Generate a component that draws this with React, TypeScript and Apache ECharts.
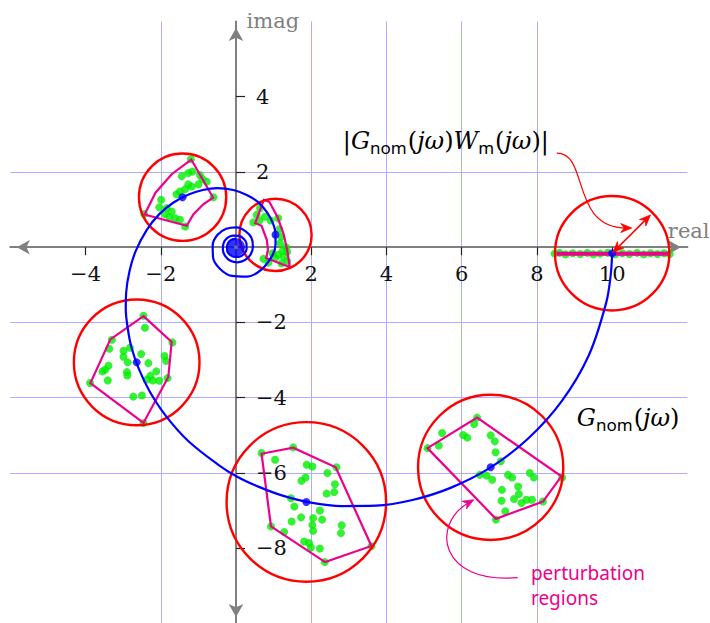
import React, { useEffect, useRef } from 'react';
import * as echarts from 'echarts';

type Pt = [number, number];

// axis ranges and ticks
const xRange: Pt = [-6, 12];
const yRange: Pt = [-10, 6];
const xTicks = [-4, -2, 2, 4, 6, 8, 10];
const yTicks = [-8, -6, -4, -2, 2, 4];

// nominal frequency response G_nom(jω) in the complex plane (real, imag)
const nominalCurve: Pt[] = [
  [10.0, -0.15], [9.96, -0.75], [9.84, -1.48], [9.38, -2.87], [8.66, -4.09], [7.76, -5.09],
  [6.76, -5.86], [5.72, -6.39], [4.69, -6.72], [3.72, -6.87], [2.81, -6.88], [1.99, -6.79],
  [1.26, -6.61], [0.61, -6.37], [0.03, -6.10], [-0.46, -5.79], [-1.27, -5.15], [-1.86, -4.49],
  [-2.29, -3.84], [-2.58, -3.24], [-2.78, -2.66], [-2.88, -2.14], [-2.93, -1.65], [-2.92, -1.21],
  [-2.83, -0.63], [-2.67, -0.11], [-2.38, 0.45], [-2.04, 0.88], [-1.66, 1.19], [-1.26, 1.40],
  [-0.88, 1.52], [-0.50, 1.57], [-0.07, 1.52], [0.30, 1.38], [0.61, 1.18], [0.83, 0.92],
  [0.98, 0.64], [1.05, 0.35], [1.05, 0.07], [0.98, -0.19], [0.69, -0.58], [0.30, -0.78],
  [-0.11, -0.76], [-0.43, -0.57], [-0.61, -0.27], [-0.62, 0.05], [-0.49, 0.33], [-0.26, 0.49],
  [0.01, 0.53], [0.25, 0.43], [0.41, 0.25], [0.45, 0.02], [0.39, -0.19], [0.24, -0.34],
  [0.04, -0.40], [-0.15, -0.36], [-0.29, -0.23], [-0.35, -0.06], [-0.33, 0.11], [-0.23, 0.25],
  [-0.08, 0.31], [0.08, 0.30], [0.21, 0.22], [0.28, 0.09], [0.28, -0.06], [0.21, -0.18],
  [0.10, -0.25], [-0.03, -0.26], [-0.15, -0.21], [-0.23, -0.11], [-0.24, 0.01], [-0.20, 0.13],
  [-0.12, 0.20], [0.00, 0.23],
];

// where the spiral winds up as ω → ∞
const spiralLimit: Pt[] = [[0, 0]];

// sampled frequencies on the nominal curve
const nominalPoints: Pt[] = [
  [10.0, -0.16], [6.77, -5.85], [1.87, -6.77], [-2.64, -3.06], [-1.42, 1.33], [1.05, 0.33],
];
// |G_nom(jω) W_m(jω)| at each sampled frequency
const uncertaintyRadii = [1.52, 1.93, 2.12, 1.67, 1.16, 0.96];

// perturbation regions (value sets of the perturbed plant)
const regionA: Pt[] = [[8.52, -0.17], [11.51, -0.17]];
const regionB: Pt[] = [[5.09, -5.34], [6.41, -4.53], [8.65, -6.09], [8.16, -6.76], [6.91, -7.22]];
const regionC: Pt[] = [[0.68, -5.49], [1.52, -5.33], [2.65, -5.85], [3.60, -7.94], [2.37, -8.37], [0.93, -7.42]];
const regionD: Pt[] = [[-2.46, -1.83], [-1.71, -2.52], [-1.80, -3.45], [-2.46, -4.67], [-3.87, -3.61], [-3.34, -2.45]];
const regionE: Pt[] = [
  [-1.19, 2.33], [-0.61, 1.32], [-0.87, 1.14], [-1.13, 0.88], [-1.31, 0.57], [-2.43, 0.87],
  [-2.14, 1.45], [-1.71, 1.94],
];
const regionF: Pt[] = [
  [0.74, 1.26], [0.51, 0.64], [0.68, 0.57], [0.82, 0.19], [0.85, -0.07], [0.80, -0.29],
  [1.43, -0.53], [1.36, -0.07], [1.26, 0.37], [1.10, 0.81], [0.89, 1.20],
];

// sampled perturbed plants
const samplesA: Pt[] = [
  [8.47, -0.17], [8.6, -0.15], [8.76, -0.19], [8.95, -0.16], [9.15, -0.18], [9.34, -0.15],
  [9.5, -0.19], [9.68, -0.17], [9.88, -0.15], [10.08, -0.19], [10.27, -0.16], [10.46, -0.18],
  [10.66, -0.15], [10.84, -0.19], [11.02, -0.16], [11.2, -0.18], [11.38, -0.16], [11.53, -0.18],
];
const samplesB: Pt[] = [
  [5.09, -5.34], [5.48, -4.94], [5.39, -5.27], [6.41, -4.53], [6.33, -4.70], [6.04, -4.99],
  [6.15, -5.06], [6.77, -5.00], [6.88, -5.16], [6.90, -5.45], [7.04, -5.69], [6.48, -6.05],
  [6.66, -6.07], [6.81, -6.18], [7.23, -6.05], [7.34, -6.12], [7.81, -6.00], [7.92, -6.12],
  [7.50, -6.36], [7.07, -6.45], [7.06, -6.74], [7.16, -7.02], [7.39, -6.69], [7.52, -6.56],
  [7.59, -6.80], [7.72, -6.71], [7.87, -6.71], [8.16, -6.76], [8.67, -6.12], [6.91, -7.24],
];
const samplesC: Pt[] = [
  [0.68, -5.47], [1.52, -5.32], [1.04, -5.65], [1.88, -5.78], [2.03, -5.83], [2.67, -5.85],
  [2.43, -6.00], [1.85, -6.12], [1.74, -6.21], [2.63, -6.30], [2.61, -6.51], [2.41, -6.55],
  [1.46, -6.67], [1.55, -6.89], [2.23, -7.00], [2.05, -7.20], [2.29, -7.24], [1.73, -7.18],
  [1.48, -7.29], [2.03, -7.38], [2.05, -7.54], [2.81, -7.39], [2.79, -7.60], [1.28, -7.57],
  [0.93, -7.42], [1.81, -7.82], [1.94, -7.86], [1.99, -7.98], [2.23, -8.01], [2.36, -8.37],
  [3.60, -7.95],
];
const samplesD: Pt[] = [
  [-2.46, -1.82], [-2.42, -2.14], [-3.30, -2.46], [-3.37, -2.70], [-2.99, -2.75], [-2.82, -2.67],
  [-2.52, -2.84], [-2.99, -2.91], [-2.88, -3.06], [-2.33, -3.08], [-1.90, -2.89], [-1.86, -3.02],
  [-1.69, -2.53], [-3.39, -3.15], [-3.48, -3.26], [-3.55, -3.30], [-2.90, -3.32], [-2.89, -3.41],
  [-2.28, -3.42], [-2.12, -3.30], [-2.21, -3.54], [-2.04, -3.55], [-1.82, -3.48], [-3.41, -3.54],
  [-3.88, -3.61], [-2.73, -3.97], [-2.50, -3.94], [-2.46, -4.67], [-2.37, -3.52],
];
const samplesE: Pt[] = [
  [-1.20, 2.34], [-1.16, 2.01], [-1.27, 1.97], [-1.44, 1.89], [-0.96, 1.92], [-0.89, 1.81],
  [-0.78, 1.74], [-1.00, 1.67], [-1.18, 1.61], [-1.35, 1.54], [-1.49, 1.48], [-1.58, 1.41],
  [-0.60, 1.33], [-1.99, 1.26], [-2.04, 1.06], [-1.84, 1.04], [-1.71, 0.95], [-1.89, 0.88],
  [-1.77, 0.80], [-1.49, 0.73], [-1.35, 0.55], [-2.44, 0.88], [-1.62, 0.77], [-1.27, 1.67],
];
const samplesF: Pt[] = [
  [0.64, 1.04], [0.55, 0.86], [0.46, 0.66], [0.62, 0.71], [0.77, 0.81], [0.92, 0.71],
  [1.12, 0.77], [1.15, 0.48], [1.21, 0.28], [1.17, 0.11], [1.33, 0.00], [1.24, -0.10],
  [1.36, -0.12], [1.12, -0.20], [1.27, -0.25], [1.36, -0.38], [0.73, -0.31], [0.86, -0.41],
  [1.04, -0.29], [1.21, -0.43], [0.97, -0.16],
];

const closedRegions = [regionB, regionC, regionD, regionE, regionF];
const allSamples = [...samplesA, ...samplesB, ...samplesC, ...samplesD, ...samplesE, ...samplesF];

const BLUE = '#0000ff';
const RED = '#ff0000';
const MAGENTA = '#ec008c';
const GREEN = '#00ee00';
const GRAY = '#808080';
const SERIF = 'DejaVu Serif';
const SANS = 'Noto Sans';

// plot box (px)
const W = 710;
const H = 623;
const GRID = { left: 10.3, right: 22.6, top: 21.5, bottom: -0.45 };
const gridW = W - GRID.left - GRID.right;
const gridH = H - GRID.top - GRID.bottom;
// distance of the zero lines from the bottom / right edge of the plot box
const xAxisShift = (gridH * (0 - yRange[0])) / (yRange[1] - yRange[0]);
const yAxisShift = (gridW * (xRange[1] - 0)) / (xRange[1] - xRange[0]);

function mathRich(color: string, size: number) {
  return {
    it: { fontFamily: SERIF, fontStyle: 'italic', fontSize: size, color, lineHeight: size + 6 },
    rm: { fontFamily: SERIF, fontSize: size, color, lineHeight: size + 6 },
    sub: {
      fontFamily: SANS, fontSize: Math.round(size * 0.7), color,
      lineHeight: Math.round(size * 0.7), verticalAlign: 'bottom', padding: [0, 1, 0, 0],
    },
  };
}

function stealthHead(tip: number[], from: number[], color: string, len = 11, half = 4.5, notch = 3.5) {
  const dx = tip[0] - from[0];
  const dy = tip[1] - from[1];
  const l = Math.hypot(dx, dy) || 1;
  const ux = dx / l, uy = dy / l;
  const nx = -uy, ny = ux;
  const bx = tip[0] - ux * len, by = tip[1] - uy * len;
  return {
    type: 'polygon',
    shape: {
      points: [
        tip,
        [bx + nx * half, by + ny * half],
        [tip[0] - ux * (len - notch), tip[1] - uy * (len - notch)],
        [bx - nx * half, by - ny * half],
      ],
    },
    style: { fill: color, stroke: color, lineWidth: 0.8 },
    z: 20,
  };
}

const minusSign = (v: number) => String(v).replace('-', '\u2212');

export default function App() {
  const ref = useRef<HTMLDivElement>(null);

  useEffect(() => {
    const chart = echarts.init(ref.current!, null, { renderer: 'svg' });

    const axisLine = {
      onZero: false, symbol: ['arrow', 'arrow'], symbolSize: [11, 13], symbolOffset: [6.5, -6.5],
      lineStyle: { color: GRAY, width: 2 },
    };
    const splitLine = { show: true, showMinLine: false, showMaxLine: false, lineStyle: { color: '#adadff', width: 1 } };

    const option: any = {
      animation: false,
      grid: { ...GRID, containLabel: false, outerBoundsMode: 'none' },
      xAxis: {
        type: 'value', min: xRange[0], max: xRange[1], interval: 2, position: 'bottom', offset: -xAxisShift,
        axisLine,
        axisTick: { show: true, length: 8, customValues: xTicks, lineStyle: { color: '#222', width: 1.2 } },
        axisLabel: {
          customValues: xTicks, margin: 16, color: '#111', fontFamily: SERIF, fontSize: 21, formatter: minusSign,
        },
        splitLine,
      },
      yAxis: {
        type: 'value', min: yRange[0], max: yRange[1], interval: 2, position: 'right', offset: -yAxisShift,
        axisLine,
        axisTick: { show: true, length: 9, customValues: yTicks, lineStyle: { color: '#222', width: 1.2 } },
        axisLabel: {
          customValues: yTicks, margin: 20, color: '#111', fontFamily: SERIF, fontSize: 21, formatter: minusSign,
        },
        splitLine,
      },
      series: [
        {
          name: 'samples', type: 'scatter', data: allSamples, symbolSize: 8,
          itemStyle: { color: GREEN }, silent: true, z: 2,
        },
        {
          name: 'region A', type: 'line', data: regionA, showSymbol: false, silent: true,
          lineStyle: { color: MAGENTA, width: 4 }, z: 3,
        },
        {
          name: 'regions', type: 'custom', coordinateSystem: 'cartesian2d', silent: true, z: 3,
          data: closedRegions.map((r) => r[0]),
          renderItem: (params: any, api: any) => {
            const pts = closedRegions[params.dataIndex].map((p) => api.coord(p));
            return { type: 'polygon', shape: { points: pts }, style: { fill: 'none', stroke: MAGENTA, lineWidth: 2.2 } };
          },
        },
        {
          name: 'uncertainty discs', type: 'custom', coordinateSystem: 'cartesian2d', silent: true, z: 4,
          data: nominalPoints.map((p, i) => [p[0], p[1], uncertaintyRadii[i]]),
          encode: { x: 0, y: 1 },
          renderItem: (params: any, api: any) => {
            const c = api.coord([api.value(0), api.value(1)]);
            const s = api.size([api.value(2), api.value(2)]);
            return {
              type: 'ellipse', shape: { cx: c[0], cy: c[1], rx: s[0], ry: s[1] },
              style: { fill: 'none', stroke: RED, lineWidth: 2.4 },
            };
          },
        },
        {
          name: 'G_nom', type: 'line', data: nominalCurve, showSymbol: false, smooth: 0.35, silent: true,
          lineStyle: { color: BLUE, width: 2.2 }, z: 5,
        },
        {
          name: 'limit', type: 'scatter', data: spiralLimit, symbolSize: 18, silent: true,
          itemStyle: { color: BLUE }, z: 6,
        },
        {
          name: 'nominal points', type: 'scatter', data: nominalPoints, symbolSize: 8, silent: true,
          itemStyle: { color: BLUE }, z: 6,
        },
        {
          name: 'origin', type: 'scatter', data: spiralLimit, symbolSize: 4, silent: true,
          itemStyle: { color: GRAY }, z: 7,
        },
      ],
    };
    chart.setOption(option);

    const toPx = (p: number[]) => chart.convertToPixel({ gridIndex: 0 }, p) as number[];

    // radius arrow of the first uncertainty disc, at 45°
    const c0 = nominalPoints[0];
    const r0 = uncertaintyRadii[0];
    const rimPt = toPx([c0[0] + r0 * Math.SQRT1_2, c0[1] + r0 * Math.SQRT1_2]);
    const cenPt = toPx(c0);
    const ddx = rimPt[0] - cenPt[0], ddy = rimPt[1] - cenPt[1];
    const dl = Math.hypot(ddx, ddy);
    const ux = ddx / dl, uy = ddy / dl;
    const tipEnd = [cenPt[0] + ux * (dl - 3), cenPt[1] + uy * (dl - 3)];
    const tipStart = [cenPt[0] + ux, cenPt[1] + uy];

    // annotation leader curves (cubic Bézier control points)
    const redLeader = [[8.53, 2.50], [9.40, 2.50], [8.87, 0.51], [10.52, 0.51]].map(toPx);
    const pinkLeader = [[7.49, -8.78], [5.42, -8.97], [5.15, -7.38], [6.32, -6.71]].map(toPx);

    const leader = (pts: number[][], color: string) => {
      const [p0, p1, p2, p3] = pts;
      const dx = p3[0] - p2[0], dy = p3[1] - p2[1];
      const l = Math.hypot(dx, dy) || 1;
      const end = [p3[0] - (dx / l) * 5, p3[1] - (dy / l) * 5];
      return [
        {
          type: 'bezierCurve',
          shape: { x1: p0[0], y1: p0[1], cpx1: p1[0], cpy1: p1[1], cpx2: p2[0], cpy2: p2[1], x2: end[0], y2: end[1] },
          style: { stroke: color, lineWidth: 1.2, fill: 'none' }, z: 20,
        },
        stealthHead(p3, p2, color),
      ];
    };

    const imagPos = toPx([0.28, 6.01]);
    const realPos = toPx([11.48, 0.43]);
    const redLabelPos = toPx([2.84, 2.82]);
    const blueLabelPos = toPx([9.06, -4.54]);
    const pinkTop = toPx([7.84, -8.66]);
    const pinkBottom = toPx([7.84, -9.33]);

    const pinkText = (text: string, p: number[]) => ({
      type: 'text', x: p[0], y: p[1], z: 20,
      style: { text, fill: MAGENTA, fontFamily: SANS, fontSize: 19, align: 'left', verticalAlign: 'middle' },
    });

    chart.setOption({
      graphic: [
        {
          type: 'text', x: imagPos[0], y: imagPos[1], z: 20,
          style: { text: 'imag', fill: GRAY, fontFamily: SERIF, fontSize: 21, align: 'left', verticalAlign: 'middle' },
        },
        {
          type: 'text', x: realPos[0], y: realPos[1], z: 20,
          style: { text: 'real', fill: GRAY, fontFamily: SERIF, fontSize: 21, align: 'left', verticalAlign: 'middle' },
        },
        {
          type: 'text', x: redLabelPos[0], y: redLabelPos[1], z: 20,
          style: {
            text: '{rm||}{it|G}{sub|nom}{rm|(}{it|jω}{rm|)}{it|W}{sub|m}{rm|(}{it|jω}{rm|)|}',
            rich: mathRich(RED, 24), align: 'left', verticalAlign: 'middle',
          },
        },
        {
          type: 'text', x: blueLabelPos[0], y: blueLabelPos[1], z: 20,
          style: {
            text: '{it|G}{sub|nom}{rm|(}{it|jω}{rm|)}',
            rich: mathRich(BLUE, 24), align: 'left', verticalAlign: 'middle',
          },
        },
        pinkText('perturbation', pinkTop),
        pinkText('regions', pinkBottom),
        {
          type: 'line', z: 20,
          shape: { x1: tipStart[0] + ux * 6, y1: tipStart[1] + uy * 6, x2: tipEnd[0] - ux * 6, y2: tipEnd[1] - uy * 6 },
          style: { stroke: RED, lineWidth: 1.6 },
        },
        stealthHead(tipEnd, cenPt, RED),
        stealthHead(tipStart, rimPt, RED),
        ...leader(redLeader, RED),
        ...leader(pinkLeader, MAGENTA),
      ],
    });

    return () => chart.dispose();
  }, []);

  return <div ref={ref} style={{ position: 'absolute', left: 0, top: 0, width: W, height: H }} />;
}
